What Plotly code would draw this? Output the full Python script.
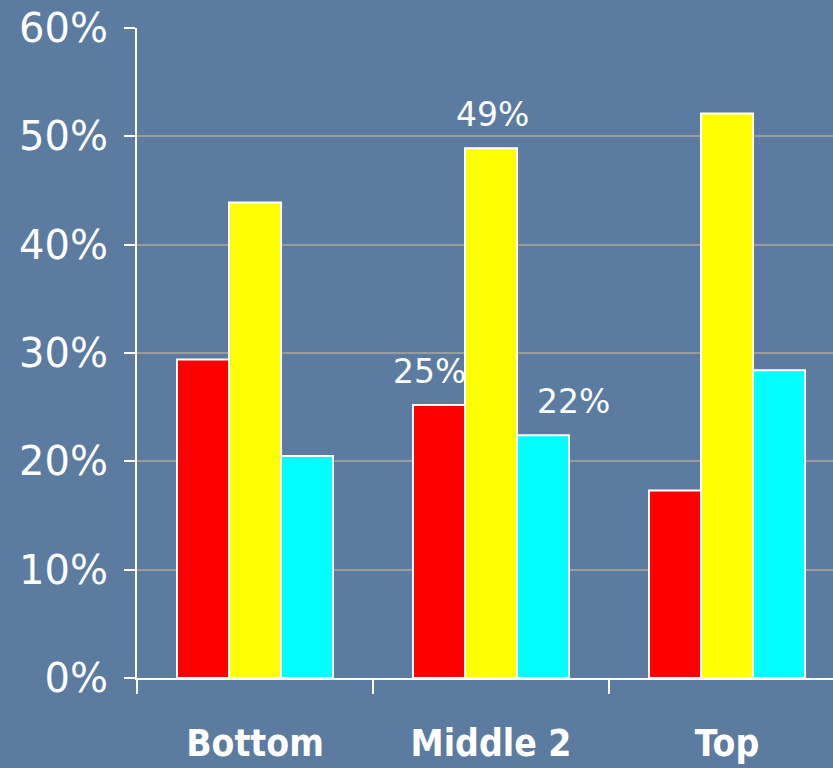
import plotly.graph_objects as go

categories = ["Bottom", "Middle 2", "Top"]
series_names = ["Series A", "Series B", "Series C"]
red_values = [0.294, 0.252, 0.173]
yellow_values = [0.439, 0.489, 0.521]
cyan_values = [0.205, 0.224, 0.284]
colors = ["#ff0000", "#ffff00", "#00ffff"]
y_ticks = [0, 0.1, 0.2, 0.3, 0.4, 0.5, 0.6]
y_tick_labels = ["0%", "10%", "20%", "30%", "40%", "50%", "60%"]
annot_labels = ["25%", "49%", "22%"]

BG = "#5b7ba1"
fig = go.Figure()
for name, vals, col in zip(series_names, [red_values, yellow_values, cyan_values], colors):
    fig.add_trace(go.Bar(x=categories, y=vals, name=name,
                         marker=dict(color=col, line=dict(color="white", width=2))))

# annotations on the middle group
annot_vals = [red_values[1], yellow_values[1], cyan_values[1]]
xshifts = [-62, 1, 82]
for lab, v, xs in zip(annot_labels, annot_vals, xshifts):
    fig.add_annotation(x=categories[1], y=v, text=lab, showarrow=False,
                       xref="x", yref="y", xanchor="center", yanchor="bottom",
                       xshift=xs, yshift=12,
                       font=dict(family="DejaVu Sans", size=33, color="white"))

fig.update_layout(
    width=833, height=768,
    paper_bgcolor=BG, plot_bgcolor=BG,
    margin=dict(l=137, r=0, t=28, b=90),
    barmode="group", bargap=0.339, bargroupgap=0,
    showlegend=False,
)
fig.update_xaxes(
    range=[-0.5, 2.449], showline=True, linecolor="white", linewidth=2,
    ticks="outside", tickson="boundaries", ticklen=14, tickcolor="white", tickwidth=2,
    showgrid=False, zeroline=False,
    tickfont=dict(family="DejaVu Sans Condensed, Liberation Sans, sans-serif", size=37, color="white", weight="bold"),
    ticklabelstandoff=32,
)
fig.update_yaxes(
    range=[0, 0.6], tickvals=y_ticks, ticktext=y_tick_labels,
    showline=True, linecolor="white", linewidth=2,
    ticks="outside", ticklen=11, tickcolor="white", tickwidth=2,
    showgrid=True, gridcolor="#9c9c9c", gridwidth=2, zeroline=False,
    tickfont=dict(family="DejaVu Sans", size=40, color="white"),
    ticklabelstandoff=8,
)
fig.write_html("out.html", config={"displayModeBar": False},
               post_script="document.body.style.margin='0';document.body.style.overflow='hidden';")
